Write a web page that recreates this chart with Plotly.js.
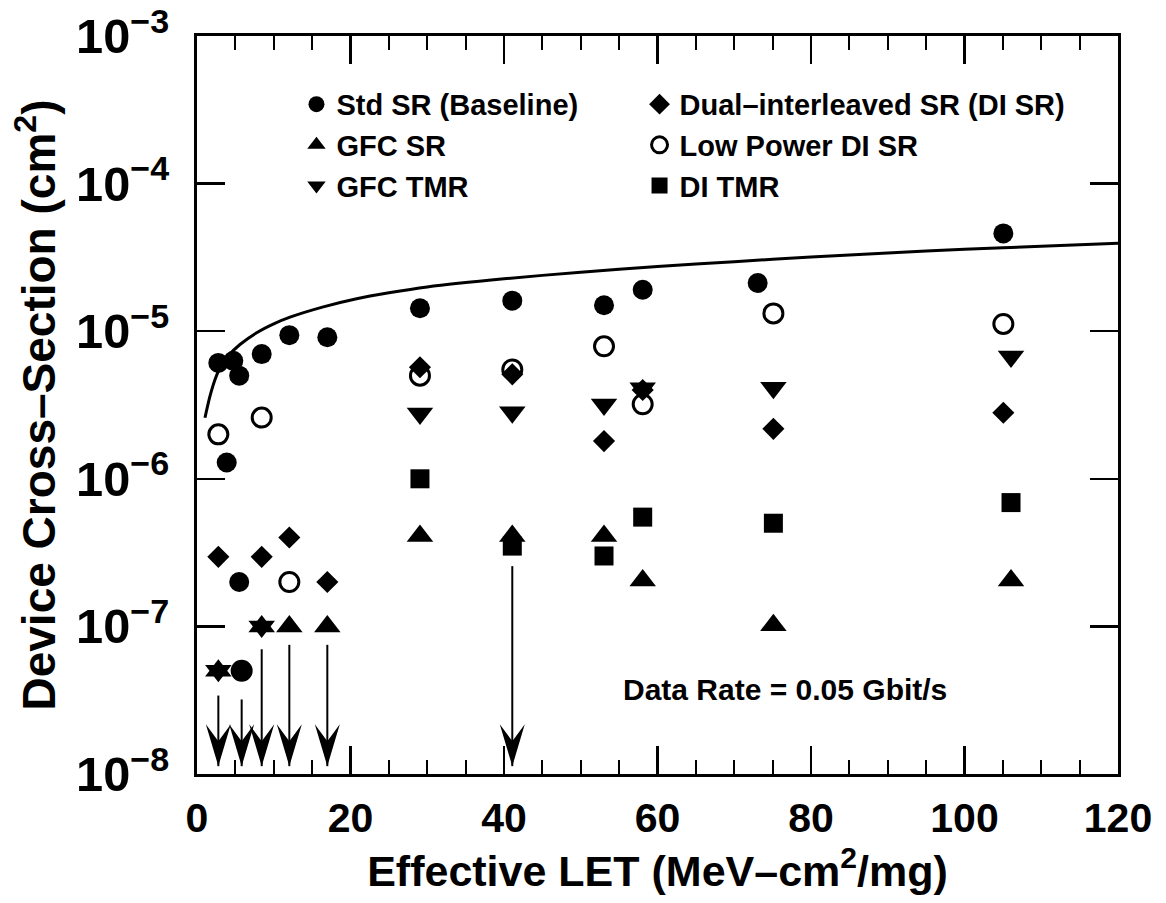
<!DOCTYPE html>
<html><head><meta charset="utf-8">
<script src="https://cdn.plot.ly/plotly-3.0.1.min.js"></script>
<style>body{margin:0;background:#fff}#chart{width:1166px;height:903px}</style>
</head><body><div id="chart"></div>
<script>
// Std SR (Baseline) – filled circles
const stdX = [2.78, 3.87, 4.73, 5.5, 5.5, 5.82, 8.43, 12.03, 16.98, 29.05, 41.08, 53.03, 58.07, 73.05, 105.06];
const stdY = [6.1e-6, 1.29e-6, 6.3e-6, 5.0e-6, 2.0e-7, 5.0e-8, 7.0e-6, 9.4e-6, 9.1e-6, 1.43e-5, 1.61e-5, 1.5e-5, 1.91e-5, 2.12e-5, 4.6e-5];
// Dual-interleaved SR – diamonds
const diX = [2.78, 8.43, 12.03, 16.98, 29.05, 41.08, 53.03, 58.07, 75.1, 105.06];
const diY = [2.96e-7, 2.96e-7, 4.0e-7, 2.0e-7, 5.7e-6, 5.1e-6, 1.8e-6, 4.0e-6, 2.18e-6, 2.8e-6];
// GFC SR – up triangles
const gfcX = [2.78, 8.43, 12.03, 16.98, 29.05, 41.08, 53.03, 58.07, 75.1, 106.06];
const gfcY = [5e-8, 1e-7, 1e-7, 1e-7, 4.1e-7, 4.1e-7, 4.1e-7, 2.05e-7, 1.02e-7, 2.05e-7];
// Low Power DI SR – open circles
const lpX = [2.78, 5.82, 8.43, 12.03, 29.05, 41.08, 53.03, 58.07, 75.1, 105.06];
const lpY = [2.0e-6, 5.0e-8, 2.6e-6, 2.0e-7, 5.0e-6, 5.5e-6, 7.9e-6, 3.2e-6, 1.32e-5, 1.12e-5];
// GFC TMR – down triangles
const gtX = [2.78, 8.43, 29.05, 41.08, 53.03, 58.07, 75.1, 106.06];
const gtY = [5e-8, 1e-7, 2.77e-6, 2.82e-6, 3.19e-6, 4.1e-6, 4.14e-6, 6.73e-6];
// DI TMR – squares
const dtX = [29.05, 41.08, 53.03, 58.07, 75.1, 106.06];
const dtY = [1.0e-6, 3.5e-7, 3.0e-7, 5.5e-7, 5.0e-7, 6.9e-7];
// Fit curve
const fitX = [1.04, 1.69, 2.35, 3.0, 4.0, 5.6, 7.78, 10, 12.12, 16.46, 20.8, 25, 30, 40, 50, 60, 70, 80, 90, 100, 110, 120];
const fitY = [2.59e-6, 3.63e-6, 4.71e-6, 5.66e-6, 6.76e-6, 8.13e-6, 9.77e-6, 1.122e-5, 1.245e-5, 1.462e-5, 1.66e-5, 1.82e-5, 1.995e-5, 2.265e-5, 2.51e-5, 2.74e-5, 2.96e-5, 3.18e-5, 3.39e-5, 3.59e-5, 3.76e-5, 3.94e-5];
// Upper-limit arrows
const limX = [2.78, 5.82, 8.43, 12.03, 16.98, 41.08];
const limFrom = [3.4e-8, 3.2e-8, 7e-8, 7.5e-8, 7.5e-8, 2.56e-7];
const limTo = [1.13e-8, 1.13e-8, 1.13e-8, 1.13e-8, 1.13e-8, 1.13e-8];

const FONT = 'Liberation Sans, Arial, Helvetica, sans-serif';

const segX = [], segY = [];
limX.forEach((x, i) => { segX.push(x, x, null); segY.push(limFrom[i], limTo[i], null); });

// barbed arrowhead glyph (pixels, relative to the arrow tip)
const HEAD = 'M0,0 L-12.5,42 L0,25 L12.5,42 Z';
const heads = limX.map((x, i) => ({
  type: 'path', xref: 'x', yref: 'y', xsizemode: 'pixel', ysizemode: 'pixel',
  xanchor: x, yanchor: limTo[i], path: HEAD, fillcolor: 'black', line: {width: 0}, layer: 'above'
}));

const traces = [
  {x: fitX, y: fitY, mode: 'lines', line: {color: 'black', width: 3, shape: 'spline', smoothing: 0.8}, showlegend: false, hoverinfo: 'skip'},
  {x: segX, y: segY, mode: 'lines', line: {color: 'black', width: 2}, showlegend: false, hoverinfo: 'skip'},
  {name: 'Std SR (Baseline)', x: stdX, y: stdY, mode: 'markers', legend: 'legend',
   marker: {symbol: 'circle', size: 20, color: 'black'}},
  {name: 'GFC SR', x: gfcX, y: gfcY, mode: 'markers', legend: 'legend',
   marker: {symbol: 'triangle-up', size: 23, color: 'black'}},
  {name: 'GFC TMR', x: gtX, y: gtY, mode: 'markers', legend: 'legend',
   marker: {symbol: 'triangle-down', size: 23, color: 'black'}},
  {name: 'Dual\u2013interleaved SR (DI SR)', x: diX, y: diY, mode: 'markers', legend: 'legend2',
   marker: {symbol: 'diamond', size: 17, color: 'black'}},
  {name: 'Low Power DI SR', x: lpX, y: lpY, mode: 'markers', legend: 'legend2',
   marker: {symbol: 'circle-open', size: 19, color: 'black', line: {width: 3, color: 'black'}}},
  {name: 'DI TMR', x: dtX, y: dtY, mode: 'markers', legend: 'legend2',
   marker: {symbol: 'square', size: 19, color: 'black'}}
];

const legendCommon = {xanchor: 'left', yanchor: 'top', bgcolor: 'rgba(0,0,0,0)',
  font: {family: FONT, size: 29, color: 'black', weight: 'bold'}, itemwidth: 30, tracegroupgap: 0};

const layout = {
  width: 1166, height: 903,
  margin: {l: 197, r: 48, t: 36, b: 129},
  paper_bgcolor: 'white', plot_bgcolor: 'white',
  font: {family: FONT, color: 'black', weight: 'bold'},
  showlegend: true,
  legend: Object.assign({x: 0.108, y: 0.942}, legendCommon),
  legend2: Object.assign({x: 0.4805, y: 0.942}, legendCommon),
  xaxis: {
    range: [0, 120], dtick: 20, tick0: 0,
    ticks: 'inside', ticklen: 28, tickwidth: 2.5, tickcolor: 'black',
    minor: {dtick: 5, ticks: 'inside', ticklen: 14, tickwidth: 2, tickcolor: 'black'},
    showline: true, linewidth: 3, linecolor: 'black', mirror: 'allticks',
    showgrid: false, zeroline: false,
    tickfont: {family: FONT, size: 41, color: 'black', weight: 'bold'},
    ticklabelstandoff: 6,
    title: {text: 'Effective LET (MeV\u2013cm<sup>2</sup>/mg)', font: {family: FONT, size: 43, color: 'black', weight: 'bold'}, standoff: 10}
  },
  yaxis: {
    type: 'log', range: [-8, -3], dtick: 1, exponentformat: 'power',
    ticks: 'inside', ticklen: 28, tickwidth: 2.5, tickcolor: 'black',
    showline: true, linewidth: 3, linecolor: 'black', mirror: 'allticks',
    showgrid: false, zeroline: false,
    tickfont: {family: FONT, size: 39, color: 'black', weight: 'bold'},
    ticklabelstandoff: 17,
    title: {text: 'Device Cross\u2013Section (cm<sup>2</sup>)', font: {family: FONT, size: 46, color: 'black', weight: 'bold'}, standoff: 6}
  },
  shapes: heads,
  annotations: [
    {text: 'Data Rate = 0.05 Gbit/s', xref: 'paper', yref: 'paper', x: 0.638, y: 0.114,
     xanchor: 'center', yanchor: 'middle', showarrow: false,
     font: {family: FONT, size: 30, color: 'black', weight: 'bold'}}
  ]
};

Plotly.newPlot('chart', traces, layout, {displayModeBar: false, staticPlot: true});
</script>
</body></html>
